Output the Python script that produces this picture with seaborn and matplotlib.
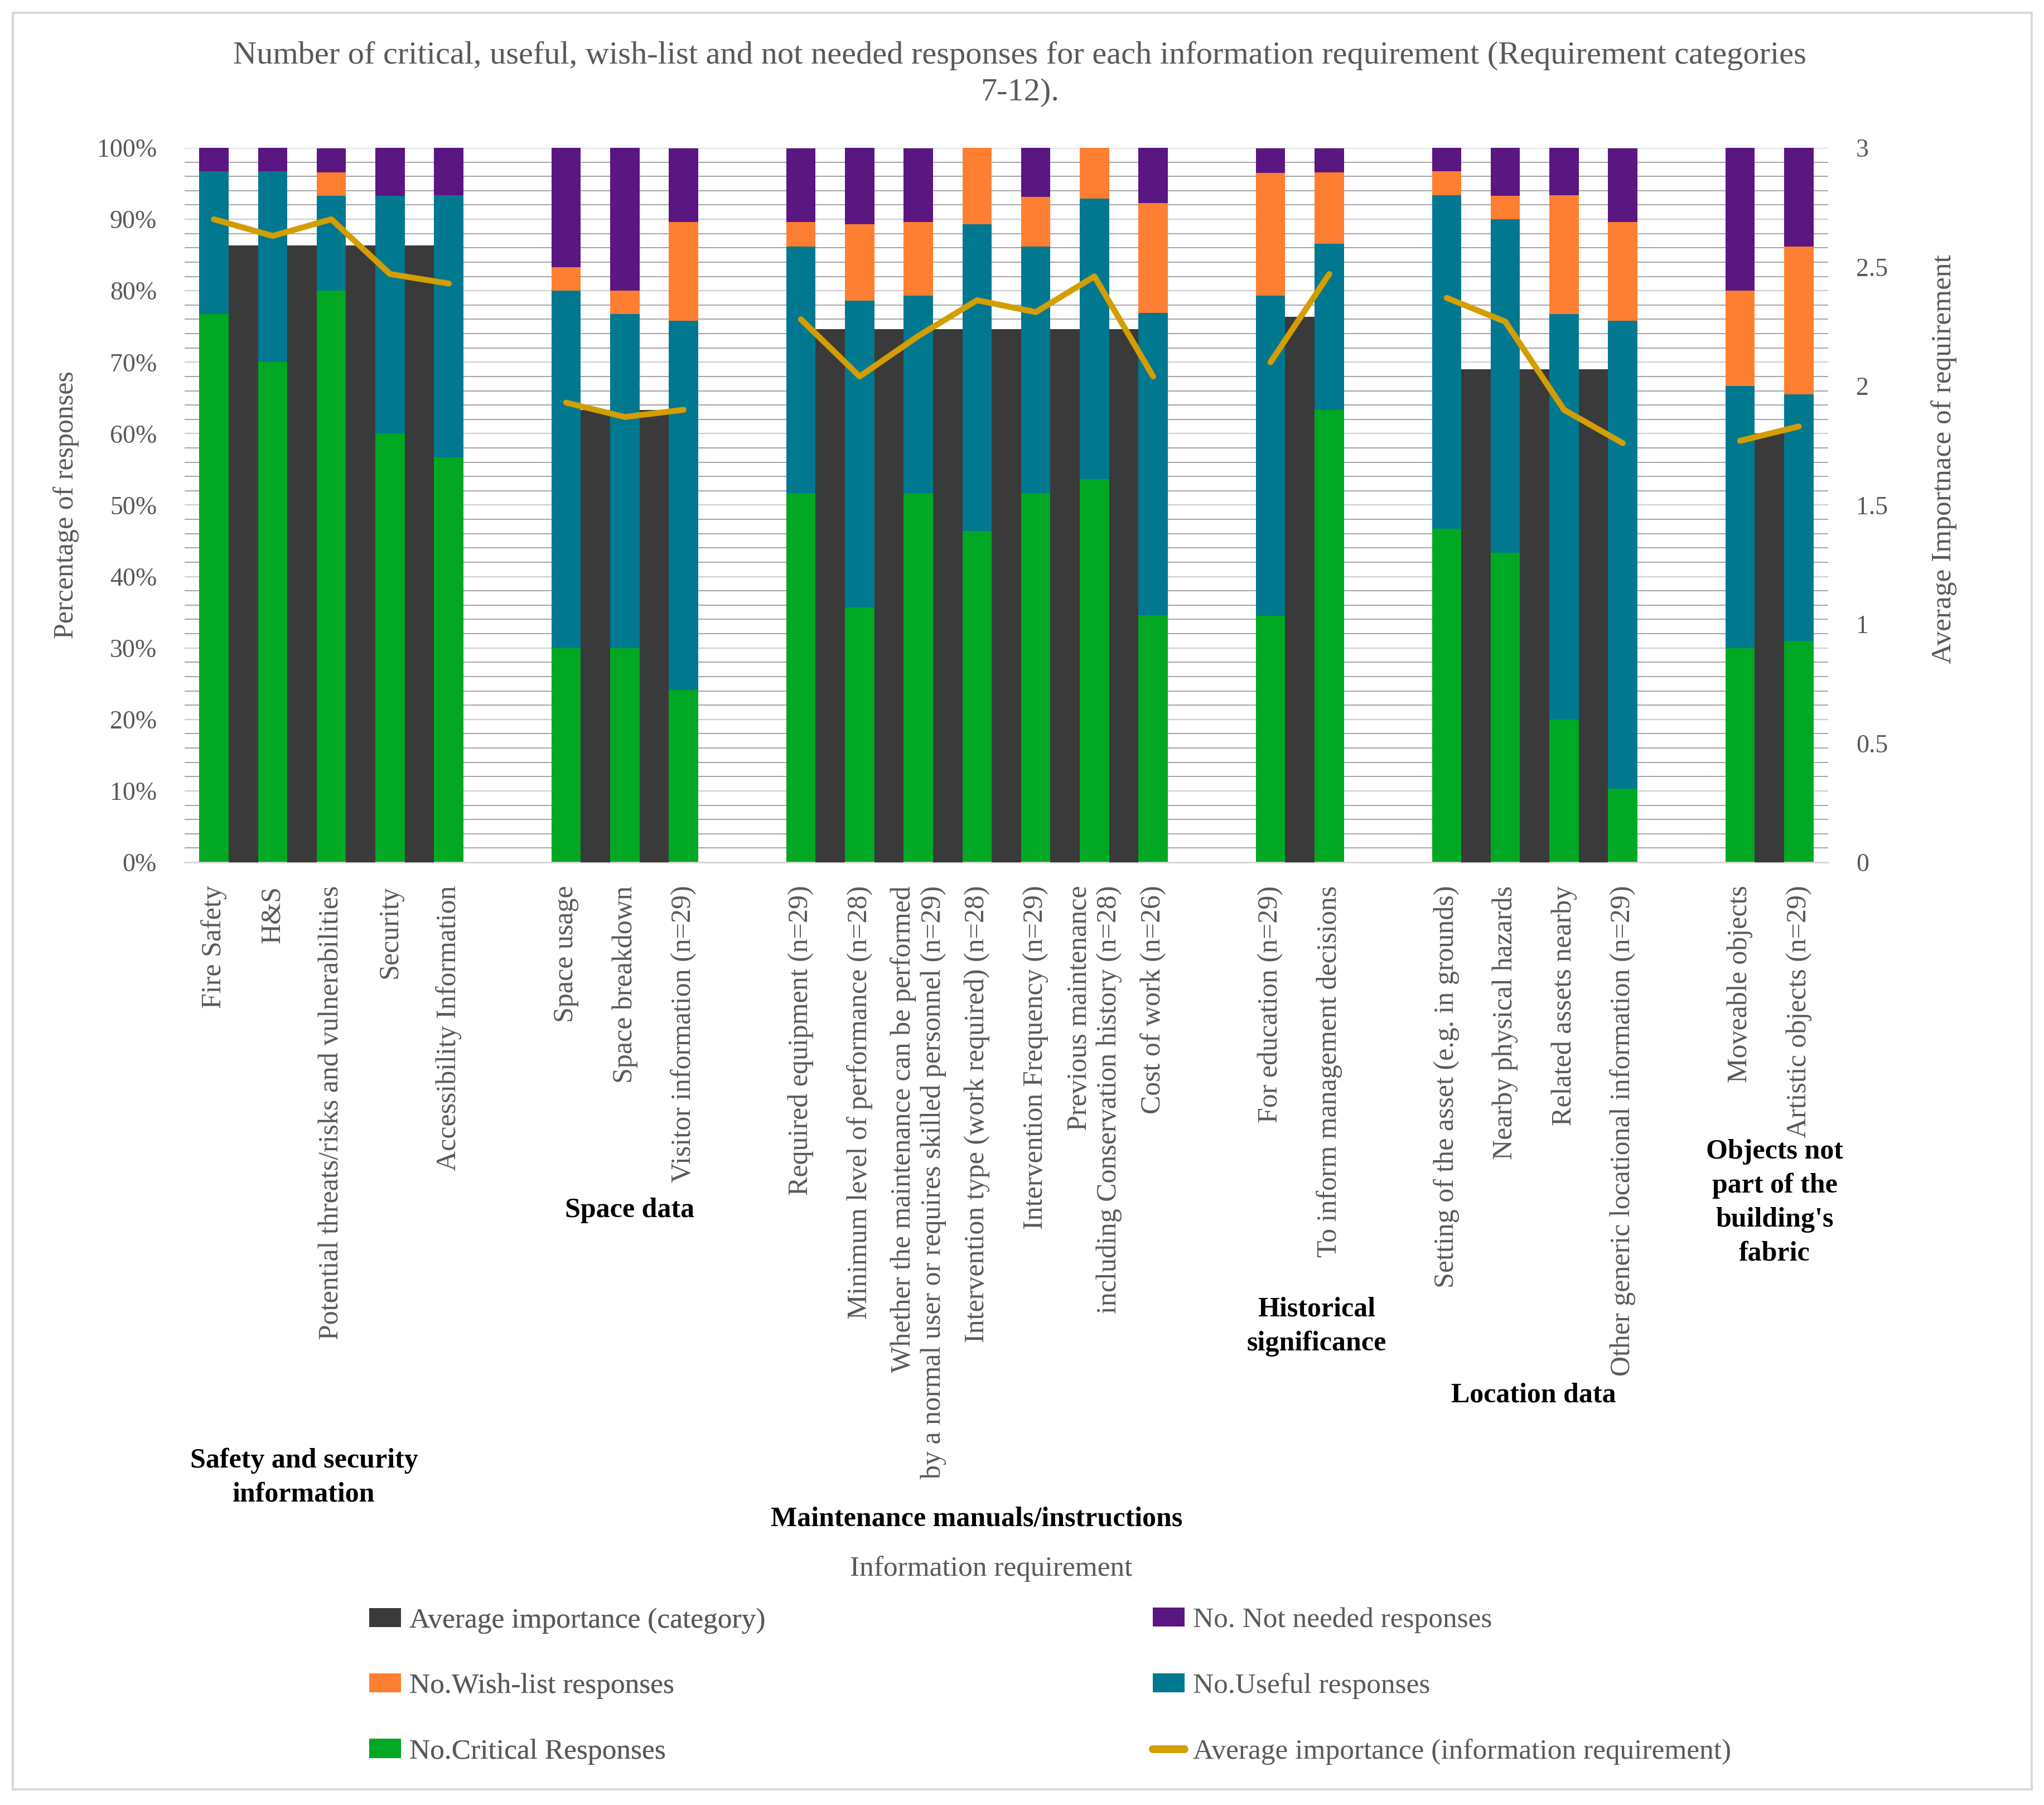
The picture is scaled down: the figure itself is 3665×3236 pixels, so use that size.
import numpy as np
import pandas as pd
import matplotlib
matplotlib.use("Agg")
import matplotlib.pyplot as plt
import seaborn as sns
from matplotlib.patches import Rectangle, Patch
from matplotlib.lines import Line2D
from matplotlib.ticker import MultipleLocator, FuncFormatter

# ---------------- data ----------------
group_names = ["Safety and security\ninformation", "Space data",
               "Maintenance manuals/instructions", "Historical\nsignificance",
               "Location data", "Objects not\npart of the\nbuilding's\nfabric"]
group_sizes = [5, 3, 7, 2, 4, 2]

requirements = [
    "Fire Safety", "H&S", "Potential threats/risks and vulnerabilities", "Security",
    "Accessibility Information",
    "Space usage", "Space breakdown", "Visitor information (n=29)",
    "Required equipment (n=29)", "Minimum level of performance (n=28)",
    "Whether the maintenance can be performed\nby a normal user or requires skilled personnel (n=29)",
    "Intervention type (work required) (n=28)", "Intervention Frequency (n=29)",
    "Previous maintenance\nincluding Conservation history (n=28)", "Cost of work (n=26)",
    "For education (n=29)", "To inform management decisions",
    "Setting of the asset (e.g. in grounds)", "Nearby physical hazards",
    "Related assets nearby", "Other generic locational information (n=29)",
    "Moveable objects", "Artistic objects (n=29)",
]

critical = [76.7, 70.0, 80.0, 60.0, 56.7,
            30.0, 30.0, 24.1,
            51.7, 35.7, 51.7, 46.4, 51.7, 53.6, 34.6,
            34.5, 63.3,
            46.7, 43.3, 20.0, 10.3,
            30.0, 31.0]
useful = [20.0, 26.7, 13.3, 33.3, 36.7,
          50.0, 46.7, 51.7,
          34.5, 42.9, 27.6, 42.9, 34.5, 39.3, 42.3,
          44.8, 23.3,
          46.7, 46.7, 56.7, 65.5,
          36.7, 34.5]
wishlist = [0.0, 0.0, 3.3, 0.0, 0.0,
            3.3, 3.3, 13.8,
            3.4, 10.7, 10.3, 10.7, 6.9, 7.1, 15.4,
            17.2, 10.0,
            3.3, 3.3, 16.7, 13.8,
            13.3, 20.7]
not_needed = [3.3, 3.3, 3.3, 6.7, 6.7,
              16.7, 20.0, 10.3,
              10.3, 10.7, 10.3, 0.0, 6.9, 0.0, 7.7,
              3.4, 3.3,
              3.3, 6.7, 6.7, 10.3,
              20.0, 13.8]
avg_requirement = [2.70, 2.63, 2.70, 2.47, 2.43,
                   1.93, 1.87, 1.90,
                   2.28, 2.04, 2.21, 2.36, 2.31, 2.46, 2.04,
                   2.10, 2.47,
                   2.37, 2.27, 1.90, 1.76,
                   1.77, 1.83]
avg_category = [2.59, 1.90, 2.24, 2.29, 2.07, 1.80]

# ---------------- slot layout (bar, category bar, bar, ... , gap) ----------------
req_slot, cat_slot, req_group, cat_group = [], [], [], []
pos = 0
for g, size in enumerate(group_sizes):
    for i in range(size):
        req_slot.append(pos + 2 * i)
        req_group.append(g)
        if i < size - 1:
            cat_slot.append(pos + 2 * i + 1)
            cat_group.append(g)
    pos += 2 * size - 1 + 3
n_slots = pos - 3

df = pd.DataFrame({"slot": np.arange(n_slots)})
for col in ["crit", "useful", "wish", "notn", "cat"]:
    df[col] = 0.0
df.loc[req_slot, "crit"] = critical
df.loc[req_slot, "useful"] = useful
df.loc[req_slot, "wish"] = wishlist
df.loc[req_slot, "notn"] = not_needed
df.loc[cat_slot, "cat"] = [avg_category[g] for g in cat_group]
df["top_crit"] = df["crit"]
df["top_useful"] = df["top_crit"] + df["useful"]
df["top_wish"] = df["top_useful"] + df["wish"]
df["top_notn"] = df["top_wish"] + df["notn"]

# ---------------- style ----------------
green, teal, orange, purple = "#00A823", "#007890", "#FF7F32", "#5A1681"
dark, gold = "#3A3A3A", "#D39E00"
grey_txt = "#595959"

sns.set_theme(style="white")
plt.rcParams["font.family"] = ["Liberation Serif", "DejaVu Serif"]

DPI = 200
fig = plt.figure(figsize=(3666 / DPI, 3236 / DPI), dpi=DPI)
ax = fig.add_axes([0.09029, 0.52225, 0.80388, 0.39586])
ax2 = ax.twinx()

order = list(range(n_slots))
for col, c in [("top_notn", purple), ("top_wish", orange),
               ("top_useful", teal), ("top_crit", green)]:
    sns.barplot(data=df, x="slot", y=col, order=order, color=c, width=1.0,
                saturation=1, errorbar=None, linewidth=0, antialiased=False, ax=ax)

sns.barplot(data=df, x="slot", y="cat", order=order, color=dark, width=1.0,
            saturation=1, errorbar=None, linewidth=0, antialiased=False, ax=ax2)

line_df = pd.DataFrame({"slot": req_slot, "avg": avg_requirement, "group": req_group})
for g in range(len(group_sizes)):
    sub = line_df[line_df["group"] == g]
    sns.lineplot(data=sub, x="slot", y="avg", color=gold, linewidth=3.8,
                 solid_capstyle="round", legend=False, ax=ax2)

# ---------------- axes ----------------
ax.set_ylim(0, 100)
ax2.set_ylim(0, 3)
ax.set_xlim(-1, n_slots)
ax.yaxis.set_major_locator(MultipleLocator(10))
ax.yaxis.set_minor_locator(MultipleLocator(2))
ax.yaxis.set_major_formatter(FuncFormatter(lambda v, p: f"{v:.0f}%"))
ax2.yaxis.set_major_locator(MultipleLocator(0.5))
ax2.yaxis.set_major_formatter(FuncFormatter(lambda v, p: f"{v:g}"))
ax.grid(False)
ax.grid(axis="y", which="minor", color="#A3A3A3", linewidth=0.7)
ax.grid(axis="y", which="major", color="#CFCFCF", linewidth=0.8)
ax.set_axisbelow(True)
for s in ["top", "right", "left"]:
    ax.spines[s].set_visible(False)
ax.spines["bottom"].set_color("#D9D9D9")
ax.spines["bottom"].set_linewidth(1.0)
for s in ax2.spines.values():
    s.set_visible(False)
ax2.grid(False)

ax.tick_params(axis="y", which="both", length=0, pad=18, labelsize=16.5, labelcolor=grey_txt)
ax2.tick_params(axis="y", which="both", length=0, pad=18, labelsize=16.5, labelcolor=grey_txt)

ax.set_xticks(req_slot)
ax.set_xticklabels(requirements, rotation=90, ha="center", va="top",
                   multialignment="right", fontsize=18, color=grey_txt)
ax.tick_params(axis="x", length=0, pad=15)
ax.set_xlim(-1, n_slots)

ax.set_xlabel("")
ax.set_ylabel("Percentage of responses", fontsize=18, color=grey_txt)
ax.yaxis.set_label_coords(-0.064, 0.5)
ax2.set_xlabel("")
ax2.set_ylabel("Average Importnace of requirement", fontsize=18.5, color=grey_txt,
               rotation=90)
ax2.yaxis.set_label_coords(1.0625, 0.564)

# ---------------- titles and group labels ----------------
fig.text(0.4987, 1 - 133 / 3236,
         "Number of critical, useful, wish-list and not needed responses for each information requirement (Requirement categories\n7-12).",
         ha="center", va="center", multialignment="center", fontsize=21,
         color=grey_txt, linespacing=1.35)

group_pos = [(545, 2649), (1129, 2170), (1751, 2724), (2361, 2378), (2750, 2502), (3182, 2156)]
for name, (gx, gy) in zip(group_names, group_pos):
    fig.text(gx / 3666, 1 - gy / 3236, name, ha="center", va="center",
             multialignment="center", fontsize=18, fontweight="bold",
             color="black", linespacing=1.42)

fig.text(1777 / 3666, 1 - 2813 / 3236, "Information requirement", ha="center",
         va="center", fontsize=18.5, color=grey_txt)

# ---------------- legend ----------------
h1 = [Patch(facecolor=dark, edgecolor="none"), Patch(facecolor=orange, edgecolor="none"),
      Patch(facecolor=green, edgecolor="none")]
l1 = ["Average importance (category)", "No.Wish-list responses", "No.Critical Responses"]
h2 = [Patch(facecolor=purple, edgecolor="none"), Patch(facecolor=teal, edgecolor="none"),
      Line2D([0], [0], color=gold, linewidth=5, solid_capstyle="round")]
l2 = ["No. Not needed responses", "No.Useful responses",
      "Average importance (information requirement)"]
leg_kw = dict(loc="center left", frameon=False, fontsize=18.5, labelspacing=1.38,
              handlelength=1.1, handleheight=0.65, handletextpad=0.3,
              borderaxespad=0, borderpad=0, labelcolor=grey_txt)
leg1 = fig.legend(h1, l1, bbox_to_anchor=(662 / 3666, 1 - 3023 / 3236), **leg_kw)
leg2 = fig.legend(h2, l2, bbox_to_anchor=(2067 / 3666, 1 - 3023 / 3236), **leg_kw)
fig.add_artist(leg1)

# ---------------- border ----------------
fig.add_artist(Rectangle((23 / 3666, 1 - 3208 / 3236), (3643 - 23) / 3666,
                         (3208 - 23) / 3236, transform=fig.transFigure,
                         fill=False, edgecolor="#D9D9D9", linewidth=1.5))

fig.savefig("out.png", dpi=DPI)
